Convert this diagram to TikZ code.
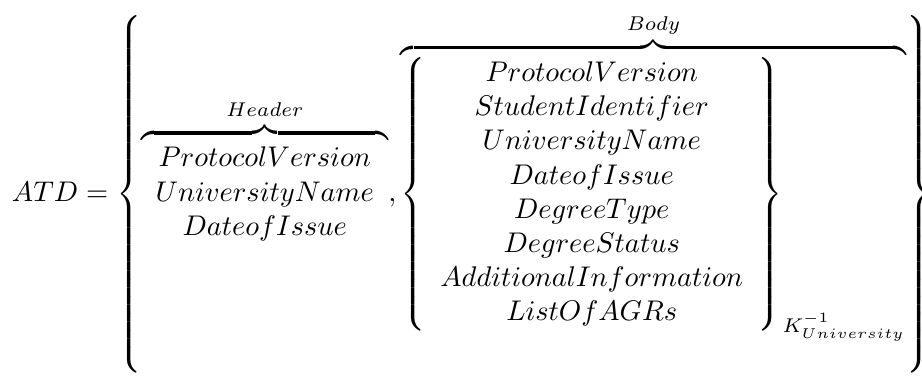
\documentclass[tikz,border=0pt]{standalone}
\usepackage{amsmath}
\usepackage{tikz}
\usepackage{xcolor}
\usetikzlibrary{calc}

\begin{document}
\begin{tikzpicture}
  % whole token
  \node[inner sep=0pt] (atd) at (0,0) {$\displaystyle
    ATD = \left\{
      % header
      \overbrace{\begin{array}{c}
        ProtocolVersion\\
        UniversityName\\
        DateofIssue
      \end{array}}^{Header},
      % body, signed
      \overbrace{\left\{\begin{array}{c}
        ProtocolVersion\\
        StudentIdentifier\\
        UniversityName\\
        DateofIssue\\
        DegreeType\\
        DegreeStatus\\
        AdditionalInformation\\
        ListOfAGRs
      \end{array}\right\}_{K^{-1}_{University}}}^{Body}
    \right\}$};

  % frame with the page's proportions
  \pgfresetboundingbox
  \useasboundingbox let \p1=(atd.south west), \p2=(atd.north east),
    \n1={(\x2-\x1+0.5pt)*0.408894} in
    (\x1-4pt,\y2+4.6pt-\n1) rectangle (\x2-3.5pt,\y2+4.6pt);
\end{tikzpicture}
\end{document}
